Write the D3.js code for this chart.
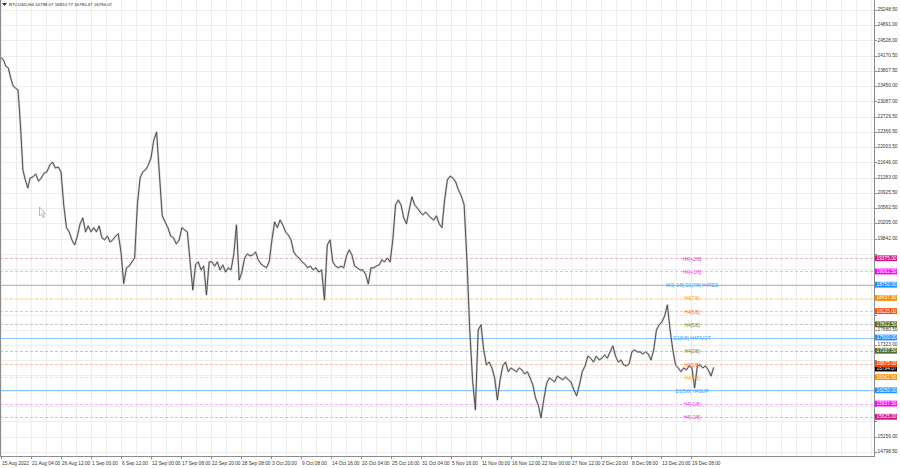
<!DOCTYPE html>
<html><head><meta charset="utf-8">
<script src="https://cdn.jsdelivr.net/npm/d3@7"></script>
<style>
body{margin:0;background:#fff}
svg{display:block}
text{font-family:"Liberation Sans",Arial,sans-serif}
</style>
</head><body>
<svg id="c" width="900" height="468"></svg>
<script>
// ---------- DATA ----------
const symbolName = "BTCUSD,H4";
const headerOHLC = ["16798.07", "16810.77", "16780.47", "16794.07"];
const lastPrice = 16794.07;
const startTime = "2022-08-15T00:00";
const stepHours = 12;
// price path, one value per 12 hours
const prices = [
  24130, 24066, 23920, 23880, 23640, 23450, 23400, 23357, 22530, 21465, 21230, 21040, 21275,
  21300, 21370, 21200, 21275, 21390, 21420, 21580, 21650, 21510, 21535, 21420,
  20637, 20100, 20000, 19810, 19690, 19900, 20190, 20330, 20000, 20140, 20000,
  20100, 20000, 20140, 19860, 19810, 19900, 19760, 19810, 19900, 19950, 19525,
  18780, 19150, 19190, 19290, 19380, 20640, 21275, 21420, 21465, 21580, 21750,
  22174, 22360, 21350, 20380, 20235, 20100, 19900, 19860, 19715, 19810,
  20100, 20046, 20000, 19290, 18627, 19218, 19290, 19100, 19190, 18510, 19290,
  19290, 19190, 19290, 19100, 19218, 19050, 19150, 19100, 19455, 20164, 18863,
  19050, 19380, 19480, 19430, 19455, 19525, 19336, 19240, 19190, 19150, 19290,
  19810, 20235, 20100, 20282, 20165, 20000, 19927, 19810, 19525, 19430, 19380,
  19290, 19240, 19150, 19190, 19100, 19150, 19050, 19100, 18390, 19690, 19810,
  19290, 19190, 19150, 19190, 19150, 19430, 19573, 19455, 19190, 19150, 19100,
  19100, 19000, 18770, 19150, 19150, 19190, 19218, 19336, 19290, 19380, 19290,
  19810, 20640, 20755, 20640, 20330, 20190, 20520, 20830, 20640, 20560, 20470,
  20400, 20470, 20400, 20330, 20280, 20380, 20190, 20100, 20755, 21230, 21320,
  21275, 21180, 20990, 20850, 20640, 19336, 17680, 16500, 15790, 17680, 17800,
  17208, 16850, 16920, 16780, 16545, 16025, 16500, 16830, 16920, 16690, 16780,
  16735, 16690, 16780, 16735, 16640, 16690, 16545, 16380, 16070, 15907, 15600,
  16025, 16400, 16545, 16500, 16450, 16590, 16545, 16500, 16570, 16500, 16450,
  16262, 16120, 16380, 16690, 16830, 17060, 17010, 16920, 17060, 16970,
  17010, 17090, 17010, 17160, 17300, 17060, 16920, 16970, 16850, 16830, 16880,
  17160, 17208, 17160, 17160, 17110, 17160, 17110, 16970, 17208, 17680, 17800,
  17870, 18010, 18270, 17680, 17208, 16853, 16780, 16690, 16780, 16735, 16830,
  16780, 16310, 16830, 16853, 16780, 16830, 16735, 16590, 16794
];
const timeTickLabels = ["15 Aug 2022","21 Aug 04:00","26 Aug 12:00","1 Sep 00:00","6 Sep 12:00","12 Sep 00:00",
  "17 Sep 08:00","22 Sep 20:00","28 Sep 08:00","3 Oct 20:00","9 Oct 08:00","14 Oct 16:00","20 Oct 04:00",
  "25 Oct 16:00","31 Oct 04:00","5 Nov 16:00","11 Nov 00:00","16 Nov 12:00","22 Nov 00:00","27 Nov 12:00",
  "2 Dec 20:00","8 Dec 08:00","13 Dec 20:00","19 Dec 08:00"];
const timeTickDates = ["2022-08-15T00:00","2022-08-21T04:00","2022-08-26T12:00","2022-09-01T00:00","2022-09-06T12:00",
  "2022-09-12T00:00","2022-09-17T08:00","2022-09-22T20:00","2022-09-28T08:00","2022-10-03T20:00","2022-10-09T08:00",
  "2022-10-14T16:00","2022-10-20T04:00","2022-10-25T16:00","2022-10-31T04:00","2022-11-05T16:00","2022-11-11T00:00",
  "2022-11-16T12:00","2022-11-22T00:00","2022-11-27T12:00","2022-12-02T20:00","2022-12-08T08:00","2022-12-13T20:00",
  "2022-12-19T08:00"];
const priceTickLabels = ["25248.50","24891.00","24528.00","24170.50","23807.50","23450.00","23087.00","22729.50",
  "22366.50","22003.50","21646.00","21283.00","20925.50","20562.50","20205.00","19842.00","19484.50","19121.50",
  "18764.00","18401.00","18043.50","17680.50","17323.00","16960.00","16602.50","16239.50","15882.00","15519.00",
  "15156.00","14798.50"];
const levelNames = ["H4[+2/8]","H4[+1/8]","W1[-1/8] D1[7/8] H4RES","H4[7/8]","H4[6/8]","H4[5/8]",
  "D1[6/8] H4PIVOT","H4[3/8]","H4[2/8]","H4[1/8]","D1[5/8] H4SUP","H4[-1/8]","H4[-2/8]"];
const levelPrices = [19375, 19062.5, 18750, 18437.5, 18125, 17812.5, 17500, 17187.5, 16875, 16562.5, 16250, 15937.5, 15625];
const levelKinds = ["pink","magenta","blue","orange","orangered","olive","blue","olive","orangered","orange","blue","magenta","pink"];

// ---------- STYLE / LAYOUT ----------
const kindStyle = {
  pink:      {line:"#eeb0d8", text:"#d23c9c", box:"#c71585", dash:"3,2"},
  magenta:   {line:"#f6b0f6", text:"#f030f0", box:"#ff00ff", dash:"3,2"},
  blue:      {line:"#8cc6ff", text:"#3c9cff", box:"#1e90ff", dash:null},
  orange:    {line:"#ffdcb4", text:"#ff9830", box:"#ff8c00", dash:"3,2"},
  orangered: {line:"#fac0ab", text:"#ff6030", box:"#ff4500", dash:"3,2"},
  olive:     {line:"#c4c8b6", text:"#6b7f4a", box:"#556b2f", dash:"3,2"}
};
const plotL = 0, plotR = 874, plotT = 0, plotB = 456;
const tickSpacing = 30, fs = 4.8;

const svg = d3.select("#c");
const parse = d3.utcParse("%Y-%m-%dT%H:%M");
const t0 = parse(startTime);
const tickDates = timeTickDates.map(parse);
const x = d3.scaleUtc().domain(tickDates).range(tickDates.map((d, i) => plotL + 1 + i * tickSpacing));
const y = d3.scaleLinear().domain([14697, 25486]).range([plotB, plotT]);

const data = prices.map((p, i) => ({t: d3.utcHour.offset(t0, i * stepHours), p}));

// grid
const grid = svg.append("g").attr("stroke", "#ededed").attr("stroke-width", 1);
for (let gx = plotL + 1; gx < plotR; gx += tickSpacing / 2) {
  grid.append("line").attr("x1", Math.round(gx) + 0.5).attr("x2", Math.round(gx) + 0.5)
    .attr("y1", plotT).attr("y2", plotB);
}
priceTickLabels.forEach(l => {
  const yy = Math.round(y(+l)) + 0.5;
  grid.append("line").attr("x1", plotL).attr("x2", plotR).attr("y1", yy).attr("y2", yy);
});

// level lines
const lv = svg.append("g");
levelPrices.forEach((p, i) => {
  const st = kindStyle[levelKinds[i]];
  const yy = Math.round(y(p)) + 0.5;
  lv.append("line").attr("x1", plotL).attr("x2", plotR).attr("y1", yy).attr("y2", yy)
    .attr("stroke", st.line).attr("stroke-width", 1)
    .attr("stroke-dasharray", st.dash);
});

// price path
const line = d3.line().x(d => x(d.t)).y(d => y(d.p));
svg.append("path").datum(data).attr("d", line).attr("fill", "none")
  .attr("stroke", "#b4b4b4").attr("stroke-width", 2.2).attr("stroke-linejoin", "round").attr("opacity", 0.6);
svg.append("path").datum(data).attr("d", line).attr("fill", "none")
  .attr("stroke", "#3a3a3a").attr("stroke-width", 0.85).attr("stroke-linejoin", "miter");

// level names
levelPrices.forEach((p, i) => {
  const st = kindStyle[levelKinds[i]];
  svg.append("text").attr("x", 692).attr("y", y(p) + 1.3).attr("text-anchor", "middle")
    .attr("dominant-baseline", "middle").attr("font-size", fs).attr("fill", st.text).text(levelNames[i]);
});

// cursor icon
svg.append("path").attr("d", "M39.5,207 L39.5,216 L41.6,214.2 L43.2,217.8 L44.4,217.2 L42.8,213.6 L45.4,213.6 Z")
  .attr("fill", "#fff").attr("stroke", "#8a8a8a").attr("stroke-width", 0.6);

// frame / axes
const ax = svg.append("g").attr("stroke", "#8c8c8c").attr("stroke-width", 1);
ax.append("line").attr("x1", plotR + 0.5).attr("x2", plotR + 0.5).attr("y1", 0).attr("y2", plotB + 1);
ax.append("line").attr("x1", 0).attr("x2", plotR + 1).attr("y1", plotB + 0.5).attr("y2", plotB + 0.5);
ax.append("line").attr("x1", 0.5).attr("x2", 0.5).attr("y1", 0).attr("y2", plotB + 1);

// right axis ticks + labels (labels hidden behind the level price boxes are skipped)
const boxYs = levelPrices.map(p => y(p)).concat([y(lastPrice)]);
priceTickLabels.forEach(l => {
  const yy = y(+l);
  ax.append("line").attr("x1", plotR).attr("x2", plotR + 3).attr("y1", Math.round(yy) + 0.5).attr("y2", Math.round(yy) + 0.5);
  if (boxYs.some(b => Math.abs(b - yy) < 5.2)) return;
  svg.append("text").attr("x", plotR + 3.5).attr("y", yy).attr("dominant-baseline", "middle")
    .attr("font-size", fs).attr("fill", "#333").text(l);
});

// bottom axis ticks + labels
timeTickLabels.forEach((l, i) => {
  const xx = x(tickDates[i]);
  ax.append("line").attr("x1", Math.round(xx) + 0.5).attr("x2", Math.round(xx) + 0.5).attr("y1", plotB).attr("y2", plotB + 3);
  svg.append("text").attr("x", xx + 1).attr("y", plotB + 8.5)
    .attr("font-size", fs).attr("fill", "#333").text(l);
});

// price boxes on axis
function priceBox(p, fill, txt, dy) {
  const yy = y(p) + (dy || 0);
  svg.append("rect").attr("x", plotR + 1).attr("y", yy - 2.9).attr("width", 22).attr("height", 5.8).attr("fill", fill);
  svg.append("text").attr("x", plotR + 2.5).attr("y", yy + 0.2).attr("dominant-baseline", "middle")
    .attr("font-size", fs).attr("fill", "#fff").text(txt);
}
priceBox(lastPrice, "#000", lastPrice.toFixed(2), 1.2);
levelPrices.forEach((p, i) => priceBox(p, kindStyle[levelKinds[i]].box, p.toFixed(2)));

// header
svg.append("path").attr("d", "M2,3 L7,3 L4.5,6 Z").attr("fill", "#333");
svg.append("text").attr("x", 9).attr("y", 6.3).attr("font-size", 4.4).attr("fill", "#222")
  .text(symbolName + "  " + headerOHLC.join(" "));
</script>
</body></html>
